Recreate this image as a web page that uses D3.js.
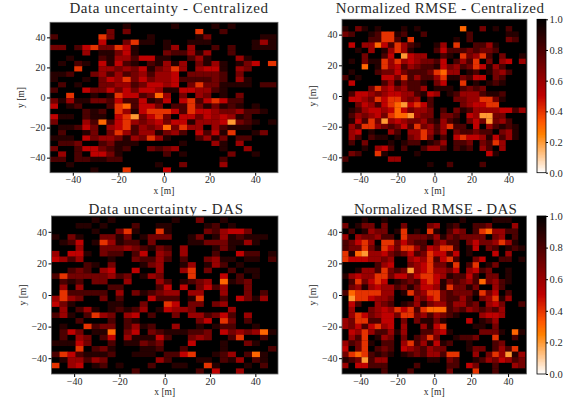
<!DOCTYPE html>
<html>
<head>
<meta charset="utf-8">
<script src="https://cdnjs.cloudflare.com/ajax/libs/d3/7.8.5/d3.min.js"></script>
<style>
  html, body { margin: 0; padding: 0; background: #fff; }
  text { font-family: "Liberation Serif", serif; fill: #2a2a2a; }
</style>
</head>
<body>
<svg width="579" height="400"></svg>
<script>
// grid values, top row first, in tenths below the top of the colorbar: d means (d + 1) / 10
const uncCentralized = [
[9,9,9,9,9, 9,9,9,9,8, 9,9,9,9,9, 8,9,9,9,9, 8,9,8,9,9, 9,9,9],
[9,9,9,9,9, 9,9,6,9,6, 9,9,9,9,9, 9,9,9,3,9, 9,7,9,9,9, 9,9,9],
[7,9,9,9,9, 9,3,6,9,9, 9,9,8,9,9, 9,9,9,8,6, 9,9,9,9,9, 9,8,8],
[9,9,9,9,9, 9,4,9,9,6, 3,8,8,9,8, 9,9,8,8,8, 9,9,9,9,9, 8,5,8],
[6,6,9,7,4, 3,6,6,3,4, 8,9,9,9,8, 5,9,5,9,9, 7,9,7,9,9, 8,8,8],
[9,9,9,9,5, 9,8,8,6,4, 8,9,9,9,6, 7,7,5,8,5, 9,9,7,9,9, 9,9,9],
[9,9,8,9,9, 9,7,8,5,5, 7,4,4,8,8, 9,9,7,5,8, 9,9,9,5,8, 9,9,9],
[9,8,9,7,8, 9,4,8,4,7, 8,9,7,8,5, 8,5,9,6,8, 5,8,9,8,6, 4,9,3],
[9,9,9,3,9, 9,5,5,6,5, 6,4,8,6,5, 3,5,9,5,4, 4,8,9,5,6, 9,9,9],
[8,8,7,9,9, 6,5,7,5,7, 6,5,7,5,5, 4,9,6,6,6, 6,7,9,6,9, 9,9,9],
[8,9,9,9,8, 9,6,4,5,3, 6,4,6,5,5, 4,7,7,7,7, 6,7,9,5,8, 9,9,9],
[9,7,9,8,9, 9,6,6,5,5, 7,6,4,4,5, 4,9,6,3,6, 6,8,8,8,8, 9,7,7],
[7,9,9,9,4, 6,6,4,6,4, 6,4,4,5,8, 8,4,4,5,5, 7,8,9,9,9, 9,9,9],
[9,9,3,9,9, 8,9,8,3,4, 4,7,6,2,5, 9,6,9,5,6, 9,8,9,6,9, 9,9,9],
[6,8,5,8,8, 6,6,7,4,7, 7,4,8,7,4, 9,4,3,7,4, 3,4,7,7,9, 9,9,9],
[4,9,8,7,9, 9,9,7,3,2, 7,4,4,6,9, 7,7,3,6,8, 6,8,7,8,9, 8,9,9],
[9,9,9,9,7, 8,7,9,3,5, 8,4,3,3,3, 4,7,3,4,4, 5,6,6,5,7, 7,8,9],
[4,8,8,9,7, 8,8,9,4,3, 1,6,4,3,6, 9,4,4,6,4, 5,4,5,8,7, 9,9,9],
[6,9,9,9,5, 7,2,7,4,3, 5,6,5,4,6, 4,4,8,5,5, 5,4,1,6,7, 8,9,8],
[9,8,8,7,4, 6,9,5,4,3, 7,5,6,5,2, 6,3,5,5,9, 5,7,8,8,8, 9,9,9],
[9,7,9,9,8, 6,9,6,3,5, 7,5,5,8,6, 5,7,9,4,7, 4,8,3,9,9, 8,6,9],
[8,8,8,9,4, 6,5,5,6,8, 5,6,3,5,8, 9,9,9,7,5, 8,6,9,7,7, 9,9,9],
[9,7,7,6,9, 9,7,6,8,8, 8,9,9,9,9, 9,8,9,9,9, 5,8,9,5,9, 9,9,9],
[6,9,9,7,4, 4,6,7,8,7, 9,9,6,7,6, 5,9,9,9,9, 9,8,9,9,5, 9,9,9],
[9,5,9,7,9, 4,4,6,8,9, 9,9,9,9,7, 9,8,9,9,9, 9,9,6,9,9, 8,9,9],
[7,7,9,7,7, 8,8,7,7,9, 9,9,9,9,9, 9,9,9,9,9, 9,7,9,9,9, 9,9,9],
[9,9,8,9,9, 9,9,9,9,9, 9,9,9,8,9, 9,6,9,9,9, 9,5,9,9,9, 9,9,9],
[9,9,9,9,9, 8,9,9,9,3, 9,9,9,9,4, 9,9,9,9,9, 9,9,9,9,9, 9,9,9]
]
const rmseCentralized = [
[9,9,9,9,9, 9,9,9,9,9, 9,9,9,9,9, 9,9,9,9,9, 9,9,9,9,9, 9,9,9],
[8,9,6,8,9, 8,9,9,9,8, 9,8,9,9,9, 9,9,9,2,9, 9,6,9,8,9, 7,9,9],
[6,7,9,9,8, 7,3,3,8,7, 9,9,7,9,9, 9,9,9,9,7, 9,9,9,9,9, 8,8,9],
[9,9,9,9,7, 7,3,3,7,9, 3,9,9,9,9, 9,9,8,9,7, 9,9,9,9,9, 6,7,9],
[9,4,9,5,5, 2,4,7,3,5, 7,8,9,9,8, 5,9,3,9,9, 7,7,5,8,9, 9,9,9],
[9,9,8,9,5, 9,8,5,3,5, 8,9,9,9,7, 4,7,7,7,6, 7,6,6,7,9, 9,9,9],
[9,9,9,6,9, 9,7,4,9,1, 4,5,5,9,9, 7,8,9,3,6, 5,3,7,9,6, 9,9,8],
[9,8,9,6,8, 8,3,5,3,5, 4,5,6,6,7, 4,9,7,5,7, 3,9,6,9,5, 4,9,5],
[9,9,9,2,9, 8,3,5,4,7, 5,6,7,7,8, 4,6,5,7,6, 3,4,8,5,7, 9,9,9],
[9,8,9,9,9, 7,6,6,4,6, 7,7,7,6,3, 2,5,5,9,8, 7,9,8,6,5, 7,9,9],
[7,9,8,9,9, 9,4,4,6,3, 7,5,7,7,5, 3,8,8,6,7, 4,4,9,6,7, 9,9,9],
[9,4,9,9,9, 9,7,5,8,6, 7,7,8,9,6, 4,9,9,3,9, 8,9,8,7,8, 9,9,9],
[9,9,9,9,6, 3,5,4,6,5, 7,7,5,9,8, 8,8,9,7,6, 7,6,9,9,9, 9,9,9],
[9,7,4,4,5, 6,5,4,4,5, 5,7,8,4,5, 9,8,7,5,5, 5,7,8,8,7, 9,9,9],
[9,4,4,5,6, 3,4,3,3,5, 6,5,9,7,9, 9,9,6,6,5, 5,3,3,6,8, 9,9,9],
[9,9,6,4,5, 7,4,3,2,1, 4,3,4,7,9, 9,9,9,6,5, 4,4,3,3,9, 9,9,9],
[9,8,7,5,4, 4,5,4,2,4, 6,5,5,6,9, 7,9,6,8,7, 5,5,5,5,4, 4,7,5],
[9,7,5,6,5, 4,6,3,2,2, 1,5,6,6,9, 6,6,7,9,4, 5,1,1,6,6, 9,9,9],
[9,8,4,7,3, 6,1,5,4,5, 6,6,5,7,8, 5,7,8,9,6, 4,6,1,6,5, 7,9,9],
[9,5,7,3,3, 5,6,7,6,4, 7,3,6,5,7, 5,3,7,7,9, 4,9,5,7,8, 7,8,9],
[9,5,4,9,8, 9,9,5,7,9, 5,5,3,5,7, 5,9,6,7,7, 6,7,7,9,6, 5,8,9],
[9,5,7,9,7, 8,8,9,8,9, 6,5,3,6,9, 7,9,4,3,4, 4,5,8,4,7, 5,8,9],
[9,7,9,6,9, 9,9,8,9,8, 7,7,9,8,7, 5,9,7,7,6, 9,6,7,3,5, 9,9,9],
[9,9,9,8,9, 5,4,7,9,7, 9,9,7,5,5, 7,9,7,8,7, 9,5,7,9,5, 9,9,9],
[9,6,7,9,9, 3,8,9,9,9, 9,8,9,9,9, 9,9,9,9,9, 9,9,4,8,9, 9,9,9],
[7,9,9,9,9, 9,9,5,5,9, 9,9,9,9,9, 9,9,9,9,9, 9,9,9,9,9, 9,9,9],
[9,9,9,9,9, 9,9,9,9,9, 9,9,9,8,9, 9,7,9,9,9, 9,7,9,9,9, 9,9,9],
[9,9,9,9,9, 9,9,9,9,9, 9,9,9,9,9, 9,9,9,9,9, 9,9,9,9,9, 9,9,9]
]
const uncDas = [
[9,9,9,9,9, 8,9,8,9,9, 9,9,9,9,9, 8,9,9,6,9, 9,8,9,9,9, 9,9,9],
[9,9,9,8,8, 9,8,9,9,9, 7,9,9,8,8, 9,9,9,9,8, 7,9,8,9,9, 9,9,9],
[9,9,9,9,9, 8,9,9,6,3, 8,9,9,3,8, 9,9,9,9,6, 7,5,4,4,6, 9,9,9],
[8,9,6,8,9, 9,6,6,8,6, 9,8,6,6,6, 9,9,8,6,9, 8,5,8,7,8, 8,8,9],
[9,8,7,4,9, 8,3,5,8,7, 7,9,6,9,9, 9,9,8,8,6, 6,6,8,8,5, 8,9,9],
[9,9,9,5,9, 9,6,6,6,5, 6,7,8,6,7, 9,5,9,9,9, 8,6,8,9,9, 9,9,9],
[5,9,4,4,8, 9,6,7,7,9, 7,4,9,5,6, 9,5,9,9,9, 7,9,9,4,7, 7,9,8],
[4,5,7,5,9, 9,9,8,9,9, 6,7,7,5,7, 9,7,9,9,6, 5,8,8,9,8, 8,9,7],
[9,9,9,9,7, 8,9,6,9,9, 9,8,6,5,9, 9,8,5,9,8, 5,7,9,8,9, 9,9,9],
[9,9,7,6,7, 9,5,4,9,9, 4,9,9,5,9, 9,5,3,9,6, 9,9,7,9,8, 8,9,9],
[7,3,6,6,6, 6,6,5,7,6, 9,8,5,6,9, 9,9,3,9,9, 9,4,9,7,9, 8,9,9],
[9,7,8,7,9, 6,6,9,9,5, 9,9,9,5,7, 9,8,7,6,5, 9,2,8,7,6, 9,9,9],
[9,5,9,5,9, 9,9,7,7,9, 9,9,9,7,4, 9,4,9,6,4, 7,5,9,9,6, 9,9,9],
[9,3,7,7,7, 7,7,9,5,9, 6,8,7,6,5, 5,9,5,5,9, 9,5,9,9,6, 9,7,9],
[5,3,5,6,9, 9,6,9,7,9, 9,9,4,7,7, 7,9,8,3,9, 9,7,9,4,6, 8,5,9],
[4,6,8,9,9, 9,9,8,8,9, 9,6,9,9,3, 4,9,6,6,9, 6,5,9,9,9, 9,9,9],
[9,5,9,7,5, 8,9,8,7,8, 7,5,9,8,4, 5,5,6,9,9, 9,9,5,9,9, 9,9,9],
[7,5,8,9,7, 3,5,6,9,5, 4,9,7,9,9, 6,9,5,5,7, 6,4,7,9,5, 9,9,9],
[9,9,9,7,9, 9,9,7,9,7, 8,9,9,9,9, 9,9,9,6,4, 9,3,6,9,7, 9,9,9],
[9,8,9,9,3, 7,6,6,9,7, 5,8,7,9,9, 5,9,9,8,9, 8,7,7,9,9, 8,9,9],
[9,7,4,6,9, 8,8,2,9,6, 4,9,6,7,8, 8,8,7,7,6, 9,4,6,5,6, 5,2,8],
[9,7,9,5,6, 9,7,4,9,5, 8,8,8,4,7, 9,9,6,5,6, 9,9,7,3,9, 9,7,9],
[8,8,8,4,6, 9,9,7,9,8, 8,6,7,6,9, 9,9,4,9,9, 9,8,9,9,6, 8,9,9],
[9,9,9,3,9, 7,6,8,9,9, 9,8,8,7,9, 9,7,9,9,9, 9,8,9,9,9, 9,9,7],
[7,3,4,7,8, 8,8,7,9,9, 8,8,8,9,7, 7,4,3,9,9, 8,7,5,9,7, 2,8,9],
[9,8,5,5,7, 5,6,9,9,9, 9,9,9,5,7, 9,9,9,8,8, 9,7,8,5,9, 7,8,9],
[3,9,5,4,9, 8,7,9,8,9, 9,9,7,9,9, 8,8,9,9,3, 8,9,9,9,8, 9,7,9],
[9,9,9,9,9, 9,9,9,9,9, 7,9,9,9,9, 9,9,9,7,9, 4,9,9,5,9, 9,9,9]
]
const rmseDas = [
[9,9,9,8,9, 9,8,9,9,9, 9,9,9,9,9, 9,9,9,8,9, 9,9,9,8,8, 8,9,9],
[6,9,8,6,6, 9,6,9,9,6, 9,9,9,6,5, 9,8,7,9,9, 7,7,6,9,9, 9,5,9],
[9,7,9,8,5, 6,6,9,8,3, 9,8,9,3,8, 9,7,5,6,9, 7,3,2,5,5, 7,7,9],
[5,9,5,6,6, 5,7,7,9,3, 6,6,6,7,5, 8,6,7,6,6, 6,6,9,6,5, 9,7,9],
[7,6,4,3,5, 9,3,3,6,4, 6,7,7,9,6, 5,7,7,9,6, 4,6,6,5,3, 5,8,9],
[7,6,6,3,6, 8,3,4,6,3, 3,5,7,4,5, 3,3,7,9,8, 4,9,6,7,9, 8,7,8],
[3,8,2,1,5, 5,4,6,7,6, 4,7,6,3,4, 4,7,4,9,8, 9,9,9,4,9, 5,9,9],
[3,4,4,4,5, 5,6,5,9,9, 5,4,5,3,7, 4,3,7,9,9, 6,4,9,9,7, 7,9,8],
[9,9,9,9,9, 7,5,4,9,9, 6,5,4,3,6, 6,8,3,9,7, 3,9,8,6,9, 9,9,9],
[9,9,8,5,5, 7,3,6,7,6, 1,5,4,3,5, 5,6,4,9,5, 4,7,6,9,9, 8,9,9],
[8,5,4,5,5, 3,3,6,4,4, 6,4,3,3,4, 5,8,7,7,4, 7,9,6,6,9, 8,9,9],
[9,7,3,6,4, 3,4,9,8,7, 6,7,4,3,4, 8,6,7,6,5, 7,2,6,5,7, 8,9,9],
[9,6,5,8,5, 4,5,5,7,6, 8,6,4,4,5, 8,3,6,6,8, 6,9,9,5,7, 9,9,9],
[7,2,3,3,3, 3,5,5,9,8, 3,6,5,3,3, 6,7,6,6,6, 8,3,6,4,9, 7,9,9],
[9,1,3,3,4, 5,5,6,9,9, 9,5,6,4,3, 6,7,7,5,7, 9,6,5,3,8, 5,9,9],
[9,4,7,9,9, 5,6,7,9,8, 7,5,8,6,5, 5,7,5,5,7, 6,9,5,4,6, 9,9,7],
[9,5,9,9,6, 5,4,5,3,4, 3,7,3,2,2, 2,7,6,7,5, 6,7,6,7,5, 9,9,9],
[9,5,3,4,6, 5,4,4,6,3, 3,6,5,7,5, 6,7,8,9,9, 9,5,4,4,5, 9,9,9],
[5,6,3,3,7, 7,4,4,9,6, 9,6,8,8,6, 8,9,9,9,4, 9,8,7,5,9, 9,9,9],
[5,6,4,7,4, 3,5,4,9,5, 9,9,5,8,4, 3,9,9,9,9, 8,8,9,6,9, 9,9,9],
[9,4,5,3,5, 7,7,5,8,5, 9,9,7,7,5, 4,8,9,9,9, 9,6,6,6,8, 9,2,8],
[9,5,7,3,9, 8,5,6,9,6, 9,7,6,3,6, 9,9,8,7,7, 6,9,9,3,9, 9,7,9],
[5,7,6,3,8, 9,7,7,9,5, 3,7,5,8,4, 8,7,9,9,8, 9,9,9,7,6, 9,9,9],
[4,9,6,3,9, 7,6,7,9,4, 5,6,7,5,6, 6,9,9,9,8, 6,6,9,7,5, 7,3,9],
[6,3,2,3,7, 8,7,8,9,8, 7,6,7,5,5, 7,3,3,9,9, 5,9,6,3,5, 1,8,5],
[8,7,6,1,7, 5,5,9,9,9, 9,9,9,8,8, 9,6,7,9,9, 8,7,5,6,4, 5,7,6],
[5,9,4,4,7, 7,7,9,9,9, 9,7,9,9,9, 9,7,7,9,4, 6,9,9,7,9, 9,5,6],
[9,9,9,9,9, 9,7,9,9,9, 7,9,9,9,9, 9,6,9,9,9, 3,9,9,7,9, 9,9,9]
]

const xTicks = [-40, -20, 0, 20, 40]
const yTicks = [-40, -20, 0, 20, 40]
const cbTicks = [0, 0.2, 0.4, 0.6, 0.8, 1]
const panelTitles = ["Data uncertainty - Centralized", "Normalized RMSE - Centralized", "Data uncertainty - DAS", "Normalized RMSE - DAS"]
const panelValues = [uncCentralized, rmseCentralized, uncDas, rmseDas]

const cellSize = 3.54
// [left, right, top, bottom, title x, title baseline, title spacing, colorbar]
const layout = [
    [50, 278, 22.3, 172.7, 169, 13, 0.6, false],
    [342, 527, 19.3, 172.7, 440, 13, 0.4, true],
    [51.5, 278, 216, 374, 166, 214, 0.6, false],
    [342, 526.5, 216, 374, 435.5, 214, 0.25, true],
]

// gist_heat reversed
function heat(t) {
    let v = 1 - t
    let r = Math.min(1, 1.5 * v), g = Math.max(0, 2 * v - 1), b = Math.max(0, 4 * v - 3)
    return d3.rgb(r * 255, g * 255, b * 255)
}

let svg = d3.select('svg')
let color = d3.scaleSequential(heat).domain([0, 1])

// the reference raster is a little soft
let defs = svg.append('defs')
defs.append('filter').attr('id', 'soft')
    .append('feGaussianBlur').attr('stdDeviation', 0.45)

panelValues.forEach(function(values, p) {
    let [left, right, top, bottom, titleX, titleY, titleSpacing, hasBar] = layout[p]
    let x = d3.scaleLinear().domain([-50, 50]).range([left, right])
    let y = d3.scaleLinear().domain([-50, 50]).range([bottom, top])
    let g = svg.append('g')

    defs.append('clipPath').attr('id', 'clip' + p)
        .append('rect')
        .attr('x', left).attr('y', top)
        .attr('width', right - left).attr('height', bottom - top)

    let cells = g.append('g').attr('clip-path', 'url(#clip' + p + ')')
        .append('g').attr('filter', 'url(#soft)')
    cells.append('rect')
        .attr('x', left - 5).attr('y', top - 5)
        .attr('width', right - left + 10).attr('height', bottom - top + 10)
        .attr('fill', '#000')

    let rows = values.length
    values.forEach(function(row, r) {
        let y0 = -50 + (rows - 1 - r) * cellSize
        cells.selectAll(null)
            .data(row)
            .enter()
            .append('rect')
            .attr('x', function(d, i) { return x(-50 + i * cellSize) })
            .attr('y', y(y0 + cellSize))
            .attr('width', x(cellSize) - x(0) + 0.3)
            .attr('height', y(y0) - y(y0 + cellSize) + 0.3)
            .attr('fill', function(d) { return color((d + 1) / 10) })
    })

    g.append('rect')
        .attr('x', left).attr('y', top)
        .attr('width', right - left).attr('height', bottom - top)
        .attr('fill', 'none')
        .attr('stroke', '#666')
        .attr('stroke-width', 0.8)

    let xAxis = g.append('g')
        .attr('transform', 'translate(0,' + bottom + ')')
        .call(d3.axisBottom(x).tickValues(xTicks).tickSize(3).tickSizeOuter(0))
    let yAxis = g.append('g')
        .attr('transform', 'translate(' + left + ',0)')
        .call(d3.axisLeft(y).tickValues(yTicks).tickSize(3).tickSizeOuter(0))
    xAxis.select('.domain').remove()
    yAxis.select('.domain').remove()
    xAxis.selectAll('text').attr('font-size', 10).attr('font-family', 'Liberation Serif').attr('y', 3.4)
    yAxis.selectAll('text').attr('font-size', 10).attr('font-family', 'Liberation Serif').attr('x', -4.4)

    g.append('text')
        .attr('x', titleX).attr('y', titleY)
        .attr('text-anchor', 'middle')
        .attr('font-size', 15)
        .attr('letter-spacing', titleSpacing)
        .text(panelTitles[p])
    g.append('text')
        .attr('x', (left + right) / 2).attr('y', bottom + 21)
        .attr('text-anchor', 'middle')
        .attr('font-size', 9.5)
        .text('x [m]')
    g.append('text')
        .attr('transform', 'translate(' + (left - 26) + ',' + (top + bottom) / 2 + ') rotate(-90)')
        .attr('text-anchor', 'middle')
        .attr('font-size', 9.5)
        .text('y [m]')

    if (hasBar) {
        let cbLeft = 537, cbRight = 546
        let cb = d3.scaleLinear().domain([0, 1]).range([bottom, top])
        let bar = svg.append('g')
        bar.selectAll('rect')
            .data(d3.range(0, 1, 0.005))
            .enter()
            .append('rect')
            .attr('x', cbLeft)
            .attr('y', function(d) { return cb(d + 0.005) })
            .attr('width', cbRight - cbLeft)
            .attr('height', cb(0) - cb(0.005) + 0.3)
            .attr('fill', function(d) { return color(d) })
            .attr('shape-rendering', 'crispEdges')
        bar.append('rect')
            .attr('x', cbLeft).attr('y', top)
            .attr('width', cbRight - cbLeft).attr('height', bottom - top)
            .attr('fill', 'none').attr('stroke', '#000').attr('stroke-width', 0.8)
        let cbAxis = bar.append('g')
            .attr('transform', 'translate(' + cbRight + ',0)')
            .call(d3.axisRight(cb).tickValues(cbTicks).tickFormat(d3.format('.1f')).tickSize(2).tickSizeOuter(0))
        cbAxis.select('.domain').remove()
        cbAxis.selectAll('text').attr('font-size', 10.5).attr('font-family', 'Liberation Serif').attr('x', 3.5)
    }
})
</script>
</body>
</html>
